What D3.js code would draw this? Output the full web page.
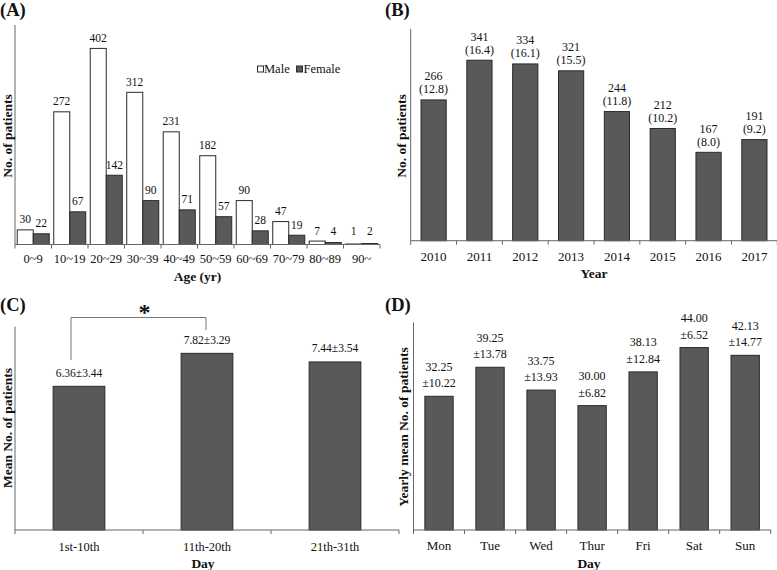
<!DOCTYPE html>
<html><head><meta charset="utf-8">
<script src="https://cdn.jsdelivr.net/npm/d3@7"></script>
<style>
body{margin:0;background:#fff;}
svg{display:block;font-family:"Liberation Serif","Times New Roman",serif;}
</style></head>
<body>
<svg id="c" width="777" height="570"></svg>
<script>
// ---- data ----
const ageGroups = ["0~9","10~19","20~29","30~39","40~49","50~59","60~69","70~79","80~89","90~"];
const maleCounts = [30,272,402,312,231,182,90,47,7,1];
const femaleCounts = [22,67,142,90,71,57,28,19,4,2];

const years = ["2010","2011","2012","2013","2014","2015","2016","2017"];
const yearCounts = [266,341,334,321,244,212,167,191];
const yearPercents = ["12.8","16.4","16.1","15.5","11.8","10.2","8.0","9.2"];

const dayRanges = ["1st-10th","11th-20th","21th-31th"];
const dayMeans = [6.36,7.82,7.44];
const daySDs = ["3.44","3.29","3.54"];

const weekdays = ["Mon","Tue","Wed","Thur","Fri","Sat","Sun"];
const weekdayMeans = [32.25,39.25,33.75,30.00,38.13,44.00,42.13];
const weekdaySDs = ["10.22","13.78","13.93","6.82","12.84","6.52","14.77"];

const svg = d3.select("#c");
const BAR = "#595959", BARSTROKE = "#2a2a2a", AXIS = "#666";

function drawAxes(g, x, y0, y1, tickLen){
  const [xa, xb] = x.range();
  g.append("line").attr("x1",xa).attr("x2",xa).attr("y1",y1).attr("y2",y0).attr("stroke",AXIS);
  g.append("line").attr("x1",xa).attr("x2",xb).attr("y1",y0).attr("y2",y0).attr("stroke",AXIS);
  const ticks = x.domain().map(d=>x(d)).concat([xb]);
  g.selectAll(null).data(ticks).enter().append("line")
    .attr("x1",d=>d).attr("x2",d=>d).attr("y1",y0).attr("y2",y0+tickLen).attr("stroke",AXIS);
}
function tickLabels(g, x, yb, size){
  g.selectAll(null).data(x.domain()).enter().append("text")
    .attr("x",d=>x(d)+x.bandwidth()/2).attr("y",yb).attr("text-anchor","middle")
    .attr("font-size",size).attr("fill","#111").text(d=>d);
}
function title(g, txt, xx, yy, rot){
  const t = g.append("text").attr("text-anchor","middle").attr("font-weight","bold")
    .attr("font-size",13.5).attr("fill","#111").text(txt);
  if(rot) t.attr("transform",`translate(${xx},${yy}) rotate(-90)`).attr("dy","0.35em");
  else t.attr("x",xx).attr("y",yy);
}
function panelLabel(txt, xx, yy){
  svg.append("text").attr("x",xx).attr("y",yy).attr("font-weight","bold").attr("font-size",18.5)
    .attr("fill","#111").text(txt);
}

// ---- Panel A ----
{
  const g = svg.append("g");
  const x = d3.scaleBand().domain(ageGroups).range([15,380]);
  const y = d3.scaleLinear().domain([0,450]).range([244.5,25]);
  const sub = d3.scaleBand().domain(["m","f"]).range([0,x.bandwidth()]).paddingOuter(0.14).paddingInner(0);
  const data = ageGroups.map((a,i)=>({a,m:maleCounts[i],f:femaleCounts[i]}));
  ["m","f"].forEach(k=>{
    g.selectAll(null).data(data).enter().append("rect")
      .attr("x",d=>x(d.a)+sub(k)).attr("width",sub.bandwidth())
      .attr("y",d=>y(d[k])).attr("height",d=>y(0)-y(d[k]))
      .attr("fill",k==="m"?"#fff":BAR).attr("stroke",BARSTROKE).attr("stroke-width",1);
    g.selectAll(null).data(data).enter().append("text")
      .attr("x",d=>x(d.a)+sub(k)+sub.bandwidth()/2)
      .attr("y",d=>Math.min(y(d[k])-6.5, 235))
      .attr("text-anchor","middle").attr("font-size",11.5).attr("fill","#111").text(d=>d[k]);
  });
  drawAxes(g,x,244.5,25,4);
  tickLabels(g,x,262.5,12.5);
  title(g,"Age (yr)",197.5,280.5,false);
  title(g,"No. of patients",7.5,136,true);
  // legend
  g.append("rect").attr("x",257.5).attr("y",66).attr("width",6).attr("height",6).attr("fill","#fff").attr("stroke",BARSTROKE);
  g.append("text").attr("x",264).attr("y",72.5).attr("font-size",12.5).attr("fill","#111").text("Male");
  g.append("rect").attr("x",296.5).attr("y",66).attr("width",6).attr("height",6).attr("fill",BAR).attr("stroke",BARSTROKE);
  g.append("text").attr("x",303.5).attr("y",72.5).attr("font-size",12.5).attr("fill","#111").text("Female");
  panelLabel("(A)",0,16);
}

// ---- Panel B ----
{
  const g = svg.append("g");
  const x = d3.scaleBand().domain(years).range([410.7,777.3]);
  const y = d3.scaleLinear().domain([0,400]).range([240.7,29]);
  const bw = x.bandwidth()*0.55;
  const data = years.map((yr,i)=>({yr,v:yearCounts[i],p:yearPercents[i]}));
  g.selectAll(null).data(data).enter().append("rect")
    .attr("x",d=>x(d.yr)+(x.bandwidth()-bw)/2).attr("width",bw)
    .attr("y",d=>y(d.v)).attr("height",d=>y(0)-y(d.v))
    .attr("fill",BAR).attr("stroke",BARSTROKE);
  const lab = g.selectAll(null).data(data).enter().append("text")
    .attr("text-anchor","middle").attr("font-size",12).attr("fill","#111");
  lab.append("tspan").attr("x",d=>x(d.yr)+x.bandwidth()/2).attr("y",d=>y(d.v)-19.5).text(d=>d.v);
  lab.append("tspan").attr("x",d=>x(d.yr)+x.bandwidth()/2).attr("y",d=>y(d.v)-6.5).text(d=>"("+d.p+")");
  drawAxes(g,x,240.7,29,4);
  tickLabels(g,x,260.5,13);
  title(g,"Year",594,278,false);
  title(g,"No. of patients",401.7,136,true);
  panelLabel("(B)",385,16);
}

// ---- Panel C ----
{
  const g = svg.append("g");
  const x = d3.scaleBand().domain(dayRanges).range([15,399]);
  const y = d3.scaleLinear().domain([0,9]).range([530,326.7]);
  const bw = x.bandwidth()*0.404;
  const data = dayRanges.map((d,i)=>({d,v:dayMeans[i],s:daySDs[i]}));
  g.selectAll(null).data(data).enter().append("rect")
    .attr("x",d=>x(d.d)+(x.bandwidth()-bw)/2).attr("width",bw)
    .attr("y",d=>y(d.v)).attr("height",d=>y(0)-y(d.v))
    .attr("fill",BAR).attr("stroke",BARSTROKE);
  g.selectAll(null).data(data).enter().append("text")
    .attr("x",d=>x(d.d)+x.bandwidth()/2).attr("y",d=>y(d.v)-9.5)
    .attr("text-anchor","middle").attr("font-size",11.5).attr("fill","#111")
    .text(d=>d.v.toFixed(2)+"±"+d.s);
  // significance bracket
  const xl = x(dayRanges[0])+x.bandwidth()/2-8, xr = x(dayRanges[1])+x.bandwidth()/2-1;
  g.append("path").attr("d",`M${xl},360 V317.5 H${xr} V330`).attr("fill","none").attr("stroke","#777");
  g.append("text").attr("x",(xl+xr)/2+6).attr("y",320).attr("text-anchor","middle")
    .attr("font-size",24).attr("font-weight","bold").attr("fill","#111").text("*");
  drawAxes(g,x,530,326.7,4);
  tickLabels(g,x,551,12.5);
  title(g,"Day",203,568,false);
  title(g,"Mean No. of patients",7.3,428,true);
  panelLabel("(C)",0,311);
}

// ---- Panel D ----
{
  const g = svg.append("g");
  const x = d3.scaleBand().domain(weekdays).range([413.5,770.7]);
  const y = d3.scaleLinear().domain([0,50]).range([530,322.7]);
  const bw = x.bandwidth()*0.555;
  const data = weekdays.map((d,i)=>({d,v:weekdayMeans[i],s:weekdaySDs[i]}));
  g.selectAll(null).data(data).enter().append("rect")
    .attr("x",d=>x(d.d)+(x.bandwidth()-bw)/2).attr("width",bw)
    .attr("y",d=>y(d.v)).attr("height",d=>y(0)-y(d.v))
    .attr("fill",BAR).attr("stroke",BARSTROKE);
  const lab = g.selectAll(null).data(data).enter().append("text")
    .attr("text-anchor","middle").attr("font-size",12).attr("fill","#111");
  lab.append("tspan").attr("x",d=>x(d.d)+x.bandwidth()/2).attr("y",d=>y(d.v)-25.5).text(d=>d.v.toFixed(2));
  lab.append("tspan").attr("x",d=>x(d.d)+x.bandwidth()/2).attr("y",d=>y(d.v)-9).text(d=>"±"+d.s);
  drawAxes(g,x,530,322.7,4);
  tickLabels(g,x,550,13);
  title(g,"Day",589,568,false);
  title(g,"Yearly mean No. of patients",403.3,427,true);
  panelLabel("(D)",385,311);
}
</script>
</body></html>
